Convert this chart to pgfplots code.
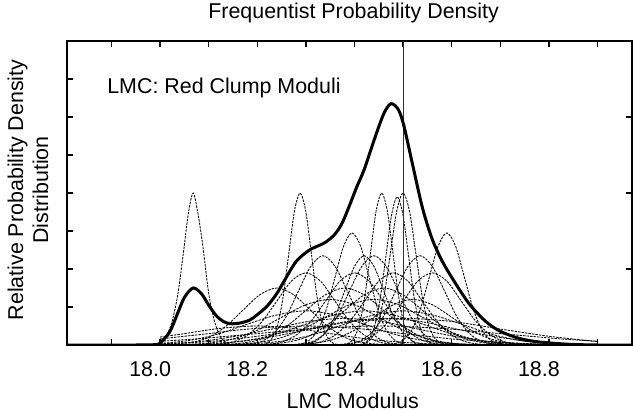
\documentclass[border=0pt]{standalone}
\usepackage{pgfplots}
\pgfplotsset{compat=1.18}
\usepackage{fontspec}
\setmainfont{Liberation Sans}
\newcommand{\bigf}{\fontsize{21.5}{25}\selectfont}
\pgfplotsset{gc/.style={smooth, no markers, black, line width=0.85bp, dash pattern=on 2.4bp off 1.1bp}}
\begin{document}
\bigf
\begin{tikzpicture}
\begin{axis}[
  at={(0,0)}, anchor=south west,
  width=565.2bp, height=304bp, scale only axis,
  xmin=17.808, xmax=18.971, ymin=0, ymax=8,
  xtick={17.9,18.0,18.1,18.2,18.3,18.4,18.5,18.6,18.7,18.8,18.9},
  xticklabels={,18.0,,18.2,,18.4,,18.6,,18.8,},
  xtick pos=both, xticklabel pos=lower,
  ytick={1,2,3,4,5,6,7}, yticklabels={}, ytick pos=left,
  tick align=inside, major tick length=6bp,
  tick style={line width=1.3bp, black},
  axis line style={line width=2bp},
  /pgf/number format/assume math mode=true,
  xticklabel style={font=\bigf, anchor=base, yshift=-31bp, xshift=-10bp},
  title={Frequentist Probability Density},
  title style={font=\bigf, at={(0.5074,1)}, anchor=base, yshift=17bp},
  xlabel={LMC Modulus},
  xlabel style={font=\bigf, at={(axis description cs:0.506,0)}, anchor=base, yshift=-63bp},
  ylabel={Relative Probability Density\\Distribution},
  ylabel style={font=\bigf, at={(axis description cs:-0.0686,0.51)}, anchor=center, align=center},
]
% individual Gaussian components (dashed)
\addplot[gc] coordinates {(18.0,0.07) (18.012,0.22) (18.024,0.59) (18.036,1.30) (18.048,2.43) (18.058,3.45) (18.068,4.00) (18.078,3.45) (18.088,2.60) (18.1,1.36) (18.112,0.62) (18.124,0.22) (18.136,0.06) (18.148,0.01) (18.165,0)};
\addplot[gc] coordinates {(18.196,0) (18.2075,0.01) (18.219,0.04) (18.2305,0.18) (18.242,0.54) (18.2535,1.30) (18.265,2.43) (18.2765,3.53) (18.288,4.00) (18.2995,3.53) (18.311,2.43) (18.3225,1.30) (18.334,0.54) (18.3455,0.18) (18.357,0.04) (18.3685,0.01) (18.38,0)};
\addplot[gc] coordinates {(18.364,0) (18.3755,0.01) (18.387,0.04) (18.3985,0.18) (18.410,0.54) (18.4215,1.30) (18.433,2.43) (18.4445,3.53) (18.456,4.00) (18.4675,3.53) (18.479,2.43) (18.4905,1.30) (18.502,0.54) (18.5135,0.18) (18.525,0.04) (18.5365,0.01) (18.548,0)};
\addplot[gc] coordinates {(18.396,0) (18.4075,0.01) (18.419,0.04) (18.4305,0.17) (18.442,0.53) (18.4535,1.27) (18.465,2.37) (18.4765,3.44) (18.488,3.90) (18.4995,3.44) (18.511,2.37) (18.5225,1.27) (18.534,0.53) (18.5455,0.17) (18.557,0.04) (18.5685,0.01) (18.58,0)};
\addplot[gc] coordinates {(18.396,0) (18.409,0.01) (18.422,0.04) (18.435,0.18) (18.448,0.54) (18.461,1.30) (18.474,2.43) (18.487,3.53) (18.500,4.00) (18.513,3.53) (18.526,2.43) (18.539,1.30) (18.552,0.54) (18.565,0.18) (18.578,0.04) (18.591,0.01) (18.604,0)};
\addplot[gc] coordinates {(18.255,0) (18.2725,0.01) (18.29,0.03) (18.3075,0.13) (18.325,0.40) (18.3425,0.96) (18.36,1.79) (18.3775,2.60) (18.395,2.95) (18.4125,2.60) (18.43,1.79) (18.4475,0.96) (18.465,0.40) (18.4825,0.13) (18.5,0.03) (18.5175,0.01) (18.535,0)};
\addplot[gc] coordinates {(18.446,0) (18.464,0.01) (18.482,0.03) (18.50,0.13) (18.518,0.40) (18.536,0.96) (18.554,1.79) (18.572,2.60) (18.59,2.95) (18.608,2.60) (18.626,1.79) (18.644,0.96) (18.662,0.40) (18.68,0.13) (18.698,0.03) (18.716,0.01) (18.734,0)};
\addplot[gc] coordinates {(18.135,0) (18.16,0.01) (18.185,0.03) (18.21,0.10) (18.235,0.32) (18.26,0.76) (18.285,1.43) (18.31,2.07) (18.335,2.35) (18.36,2.07) (18.385,1.43) (18.41,0.76) (18.435,0.32) (18.46,0.10) (18.485,0.03) (18.51,0.01) (18.535,0)};
\addplot[gc] coordinates {(18.24,0) (18.265,0.01) (18.29,0.03) (18.315,0.10) (18.34,0.32) (18.365,0.76) (18.39,1.43) (18.415,2.07) (18.44,2.35) (18.465,2.07) (18.49,1.43) (18.515,0.76) (18.54,0.32) (18.565,0.10) (18.59,0.03) (18.615,0.01) (18.64,0)};
\addplot[gc] coordinates {(18.335,0) (18.36,0.01) (18.385,0.03) (18.41,0.10) (18.435,0.32) (18.46,0.76) (18.485,1.43) (18.51,2.07) (18.535,2.35) (18.56,2.07) (18.585,1.43) (18.61,0.76) (18.635,0.32) (18.66,0.10) (18.685,0.03) (18.71,0.01) (18.735,0)};
\addplot[gc] coordinates {(18.0,0) (18.03,0.02) (18.065,0.07) (18.10,0.20) (18.135,0.49) (18.17,0.91) (18.205,1.32) (18.24,1.50) (18.275,1.32) (18.31,0.91) (18.345,0.49) (18.38,0.20) (18.415,0.07) (18.45,0.02) (18.485,0) (18.52,0)};
\addplot[gc] coordinates {(18.06,0) (18.09,0) (18.12,0.02) (18.15,0.08) (18.18,0.26) (18.21,0.62) (18.24,1.15) (18.27,1.68) (18.30,1.90) (18.33,1.68) (18.36,1.15) (18.39,0.62) (18.42,0.26) (18.45,0.08) (18.48,0.02) (18.51,0) (18.54,0)};
\addplot[gc] coordinates {(18.16,0) (18.19,0) (18.22,0.02) (18.25,0.08) (18.28,0.26) (18.31,0.62) (18.34,1.15) (18.37,1.68) (18.40,1.90) (18.43,1.68) (18.46,1.15) (18.49,0.62) (18.52,0.26) (18.55,0.08) (18.58,0.02) (18.61,0) (18.64,0)};
\addplot[gc] coordinates {(18.24,0) (18.27,0) (18.30,0.02) (18.33,0.08) (18.36,0.26) (18.39,0.62) (18.42,1.15) (18.45,1.68) (18.48,1.90) (18.51,1.68) (18.54,1.15) (18.57,0.62) (18.60,0.26) (18.63,0.08) (18.66,0.02) (18.69,0) (18.72,0)};
\addplot[gc] coordinates {(18.32,0) (18.35,0) (18.38,0.02) (18.41,0.08) (18.44,0.26) (18.47,0.62) (18.50,1.15) (18.53,1.68) (18.56,1.90) (18.59,1.68) (18.62,1.15) (18.65,0.62) (18.68,0.26) (18.71,0.08) (18.74,0.02) (18.77,0) (18.80,0)};
\addplot[gc] coordinates {(18.06,0) (18.10,0) (18.14,0.02) (18.18,0.07) (18.22,0.20) (18.26,0.49) (18.30,0.91) (18.34,1.32) (18.38,1.50) (18.42,1.32) (18.46,0.91) (18.50,0.49) (18.54,0.20) (18.58,0.07) (18.62,0.02) (18.66,0) (18.70,0)};
\addplot[gc] coordinates {(18.14,0) (18.18,0) (18.22,0.02) (18.26,0.07) (18.30,0.20) (18.34,0.49) (18.38,0.91) (18.42,1.32) (18.46,1.50) (18.50,1.32) (18.54,0.91) (18.58,0.49) (18.62,0.20) (18.66,0.07) (18.70,0.02) (18.74,0) (18.78,0)};
\addplot[gc] coordinates {(18.20,0) (18.24,0) (18.28,0.01) (18.32,0.05) (18.36,0.16) (18.40,0.39) (18.44,0.73) (18.48,1.06) (18.52,1.20) (18.56,1.06) (18.60,0.73) (18.64,0.39) (18.68,0.16) (18.72,0.05) (18.76,0.01) (18.80,0) (18.84,0)};
\addplot[gc] coordinates {(18.0,0) (18.05,0.01) (18.10,0.05) (18.15,0.16) (18.20,0.39) (18.25,0.73) (18.30,1.06) (18.35,1.20) (18.40,1.06) (18.45,0.73) (18.50,0.39) (18.55,0.16) (18.60,0.05) (18.65,0.01) (18.70,0) (18.75,0)};
\addplot[gc] coordinates {(18.04,0) (18.09,0) (18.14,0.01) (18.19,0.05) (18.24,0.16) (18.29,0.39) (18.34,0.73) (18.39,1.06) (18.44,1.20) (18.49,1.06) (18.54,0.73) (18.59,0.39) (18.64,0.16) (18.69,0.05) (18.74,0.01) (18.79,0) (18.84,0)};
\addplot[gc] coordinates {(18.0,0.04) (18.06,0.12) (18.12,0.29) (18.18,0.55) (18.24,0.79) (18.30,0.90) (18.36,0.79) (18.42,0.55) (18.48,0.29) (18.54,0.12) (18.60,0.04) (18.66,0.01) (18.72,0) (18.78,0)};
\addplot[gc] coordinates {(18.0,0) (18.06,0.01) (18.12,0.04) (18.18,0.12) (18.24,0.29) (18.30,0.55) (18.36,0.79) (18.42,0.90) (18.48,0.79) (18.54,0.55) (18.60,0.29) (18.66,0.12) (18.72,0.04) (18.78,0.01) (18.84,0) (18.90,0)};
\addplot[gc] coordinates {(18.02,0) (18.08,0) (18.14,0.01) (18.20,0.04) (18.26,0.12) (18.32,0.29) (18.38,0.55) (18.44,0.79) (18.50,0.90) (18.56,0.79) (18.62,0.55) (18.68,0.29) (18.74,0.12) (18.80,0.04) (18.86,0.01) (18.90,0)};
\addplot[gc] coordinates {(18.0,0.03) (18.08,0.09) (18.155,0.23) (18.23,0.42) (18.305,0.62) (18.38,0.70) (18.455,0.62) (18.53,0.42) (18.605,0.23) (18.68,0.09) (18.755,0.03) (18.83,0.01) (18.905,0)};
\addplot[gc] coordinates {(18.0,0.01) (18.085,0.03) (18.16,0.09) (18.235,0.23) (18.31,0.42) (18.385,0.62) (18.46,0.70) (18.535,0.62) (18.61,0.42) (18.685,0.23) (18.76,0.09) (18.835,0.03) (18.9,0.01)};
\addplot[gc] coordinates {(18.0,0.16) (18.05,0.23) (18.1,0.30) (18.15,0.38) (18.2,0.44) (18.25,0.48) (18.3,0.50) (18.35,0.48) (18.4,0.44) (18.45,0.38) (18.5,0.30) (18.55,0.23) (18.6,0.16) (18.65,0.11) (18.7,0.07) (18.8,0.02) (18.9,0.01)};
\addplot[gc] coordinates {(18.0,0.10) (18.075,0.16) (18.2,0.30) (18.325,0.44) (18.45,0.50) (18.575,0.44) (18.7,0.30) (18.825,0.16) (18.9,0.10)};
\addplot[gc] coordinates {(18.26,0) (18.28,0.01) (18.30,0.03) (18.32,0.10) (18.34,0.32) (18.36,0.76) (18.38,1.43) (18.40,2.07) (18.42,2.35) (18.44,2.07) (18.46,1.43) (18.48,0.76) (18.50,0.32) (18.52,0.10) (18.54,0.03) (18.56,0.01) (18.58,0)};
\addplot[gc] coordinates {(18.0,0.21) (18.05,0.30) (18.125,0.44) (18.2,0.50) (18.275,0.44) (18.35,0.30) (18.425,0.16) (18.5,0.07) (18.575,0.02) (18.65,0.01) (18.725,0)};
\addplot[gc] coordinates {(18.0,0.03) (18.1,0.09) (18.2,0.23) (18.3,0.42) (18.4,0.62) (18.5,0.70) (18.6,0.62) (18.7,0.42) (18.8,0.23) (18.9,0.09)};
% vertical reference line
\addplot[no markers, black!80, line width=0.9bp] coordinates {(18.5,0) (18.5,8)};
% total density (solid)
\addplot[smooth, no markers, black, line width=3bp] coordinates {(17.81,0) (17.95,0) (17.99,0.01) (18.0,0.05) (18.02,0.35) (18.035,0.80) (18.05,1.25) (18.068,1.50) (18.085,1.35) (18.10,1.05) (18.115,0.78) (18.13,0.62) (18.145,0.56) (18.165,0.58) (18.185,0.66) (18.20,0.80) (18.22,1.02) (18.24,1.35) (18.255,1.68) (18.28,2.2) (18.305,2.48) (18.32,2.58) (18.34,2.70) (18.36,2.92) (18.375,3.22) (18.39,3.68) (18.405,4.17) (18.42,4.62) (18.44,5.38) (18.46,6.08) (18.475,6.35) (18.49,6.2) (18.50,5.85) (18.51,5.3) (18.52,4.72) (18.54,3.6) (18.56,2.78) (18.58,2.22) (18.60,1.78) (18.635,1.1) (18.67,0.62) (18.70,0.36) (18.74,0.17) (18.78,0.08) (18.84,0.02) (18.90,0) (18.97,0)};
\node[anchor=base west, font=\bigf] at (rel axis cs:0.0587,0.828) {LMC: Red Clump Moduli};
\end{axis}
\begin{axis}[
  at={(0,0)}, anchor=south west,
  width=565.2bp, height=304bp, scale only axis,
  xmin=17.808, xmax=18.971, ymin=0, ymax=8,
  axis x line=none, axis y line*=right,
  ytick={2,4,6}, yticklabels={},
  tick align=inside, major tick length=6bp,
  tick style={line width=1.3bp, black},
  axis line style={line width=2bp, -},
]
\addplot[draw=none] coordinates {(18,0)};
\end{axis}
\pgfresetboundingbox
\path (-66.8bp,-66bp) rectangle (566.2bp,345bp);
\end{tikzpicture}
\end{document}
